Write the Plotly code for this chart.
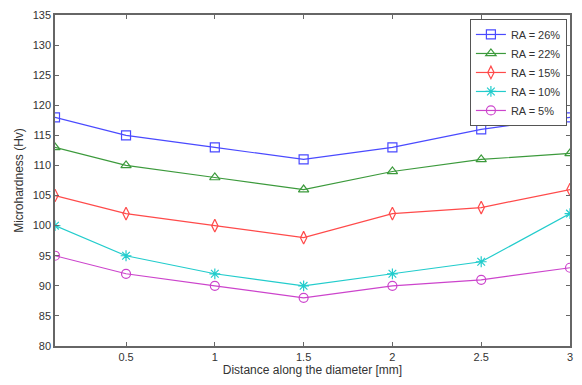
import plotly.graph_objects as go

x_mm = [0.1, 0.5, 1, 1.5, 2, 2.5, 3]
ra26 = [118, 115, 113, 111, 113, 116, 118]
ra22 = [113, 110, 108, 106, 109, 111, 112]
ra15 = [105, 102, 100, 98, 102, 103, 106]
ra10 = [100, 95, 92, 90, 92, 94, 102]
ra5 = [95, 92, 90, 88, 90, 91, 93]

series = [
    ("RA = 26%", ra26, "#4a4aff", "square-open"),
    ("RA = 22%", ra22, "#3c9a3c", "triangle-up-open"),
    ("RA = 15%", ra15, "#ff4a4a", "diamond-tall-open"),
    ("RA = 10%", ra10, "#22cccc", "asterisk-open"),
    ("RA = 5%", ra5, "#cc44cc", "circle-open"),
]

fig = go.Figure()
for name, ys, color, sym in series:
    fig.add_trace(go.Scatter(
        x=x_mm, y=ys, name=name, mode="lines+markers",
        line=dict(color=color, width=1.2),
        marker=dict(symbol=sym, size=9, color=color, line=dict(color=color, width=1.2)),
    ))

axis_common = dict(
    showgrid=False, zeroline=False, showline=True, linecolor="#666666", linewidth=1.5,
    mirror="ticks", ticks="inside", ticklen=4, tickcolor="#666666",
    tickfont=dict(family="Liberation Sans, Arial", size=11, color="#333333"),
)

fig.update_layout(
    width=582, height=385,
    margin=dict(l=55, r=9, t=12, b=39),
    paper_bgcolor="white", plot_bgcolor="white",
    font=dict(family="Liberation Sans, Arial", size=11, color="#333333"),
    xaxis=dict(range=[0.1, 3], tickvals=[0.5, 1, 1.5, 2, 2.5, 3],
               ticktext=["0.5", "1", "1.5", "2", "2.5", "3"],
               title=dict(text="Distance along the diameter [mm]", font=dict(size=12), standoff=4),
               **axis_common),
    yaxis=dict(range=[80, 135], tickvals=list(range(80, 136, 5)),
               title=dict(text="Microhardness (Hv)", font=dict(size=12), standoff=6),
               **axis_common),
    legend=dict(x=0.994, y=0.988, xanchor="right", yanchor="top",
                bordercolor="#555555", borderwidth=1, bgcolor="white",
                font=dict(size=11, color="#333333"), tracegroupgap=0,
                itemwidth=30),
    showlegend=True,
)

fig.write_html("out.html")
